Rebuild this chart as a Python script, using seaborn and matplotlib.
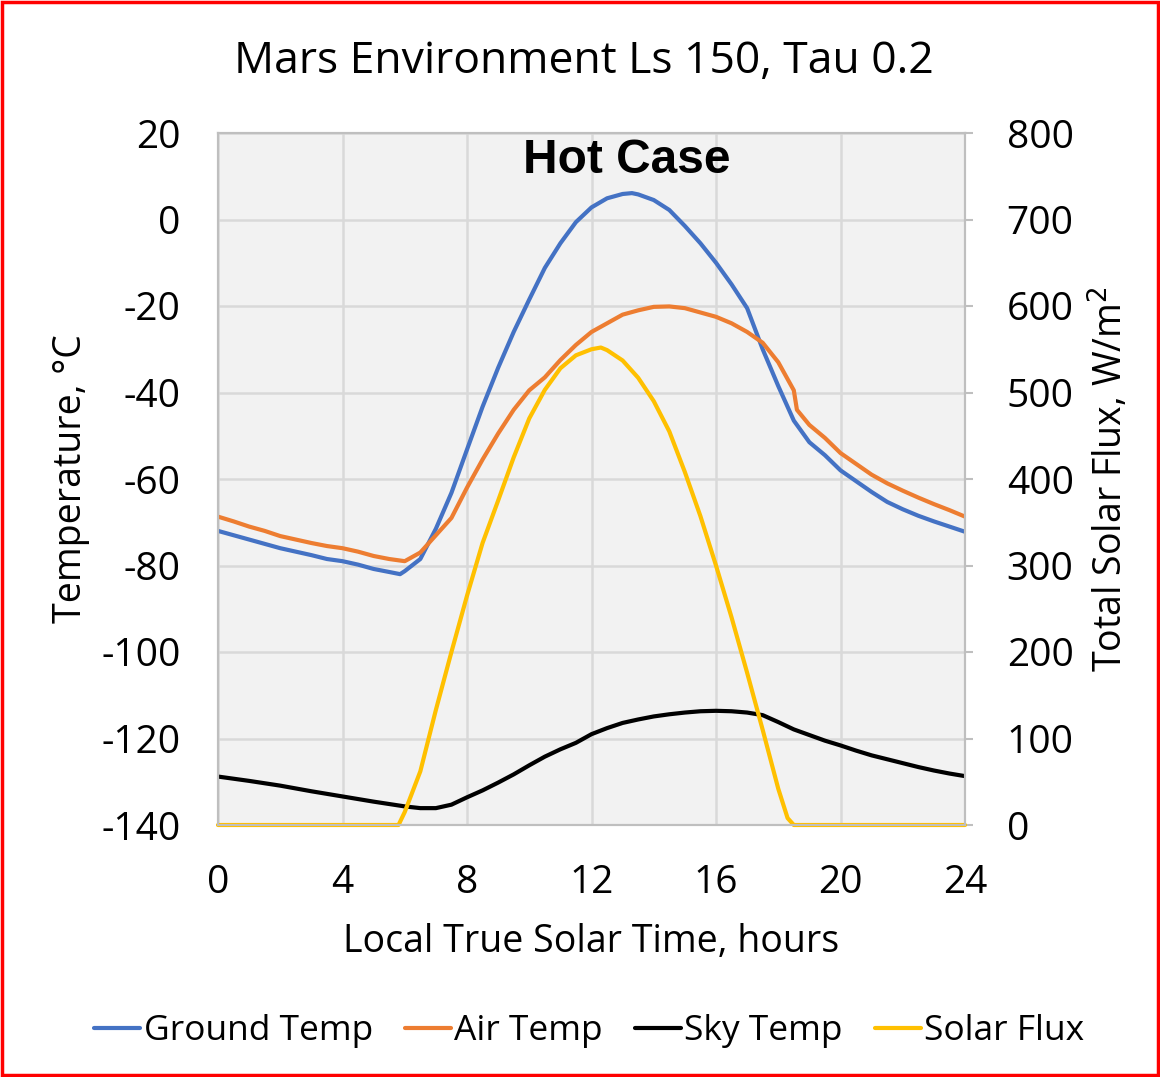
import numpy as np
import pandas as pd
import matplotlib
matplotlib.use("Agg")
import matplotlib.pyplot as plt
import seaborn as sns
from matplotlib.patches import Rectangle

# ---------------- data ----------------
ground_hours = [0, 0.5, 1, 1.5, 2, 2.5, 3, 3.5, 4, 4.5, 5, 5.5, 5.85, 6, 6.5, 7, 7.5, 8, 8.5, 9, 9.5,
                10, 10.5, 11, 11.5, 12, 12.5, 13, 13.3, 13.5, 14, 14.5, 15, 15.5, 16, 16.5, 17, 17.5,
                18, 18.5, 19, 19.5, 20, 20.5, 21, 21.5, 22, 22.5, 23, 23.5, 24]
ground_temp = [-72.0, -73.0, -74.0, -75.0, -76.0, -76.8, -77.6, -78.5, -79.0, -79.8, -80.8, -81.5, -82.0,
               -81.3, -78.5, -71.5, -63.2, -53.2, -43.3, -34.3, -26.0, -18.5, -11.2, -5.5, -0.6, 2.8, 4.9,
               5.9, 6.1, 5.8, 4.5, 2.2, -1.5, -5.5, -10.0, -15.0, -20.5, -30.0, -38.5, -46.5, -51.5,
               -54.5, -58.0, -60.5, -63.0, -65.3, -67.0, -68.5, -69.8, -71.0, -72.2]

air_hours = [0, 0.5, 1, 1.5, 2, 2.5, 3, 3.5, 4, 4.5, 5, 5.5, 6, 6.5, 7, 7.5, 8, 8.5, 9, 9.5, 10, 10.5,
             11, 11.5, 12, 12.5, 13, 13.5, 14, 14.5, 15, 15.5, 16, 16.5, 17, 17.5, 18, 18.5, 18.6, 19,
             19.5, 20, 20.5, 21, 21.5, 22, 22.5, 23, 23.5, 24]
air_temp = [-68.7, -69.8, -71.0, -72.0, -73.2, -74.0, -74.8, -75.5, -76.0, -76.8, -77.8, -78.5, -79.0,
            -77.0, -73.0, -69.0, -62.0, -55.5, -49.5, -44.0, -39.5, -36.5, -32.5, -29.0, -26.0, -24.0,
            -22.0, -21.0, -20.2, -20.1, -20.5, -21.5, -22.5, -24.0, -26.0, -28.5, -33.0, -39.5, -44.0,
            -47.5, -50.5, -54.0, -56.5, -59.0, -61.0, -62.7, -64.3, -65.8, -67.2, -68.7]

sky_hours = [0, 1, 2, 3, 4, 5, 6, 6.5, 7, 7.5, 8, 8.5, 9, 9.5, 10, 10.5, 11, 11.5, 12, 12.5, 13, 13.5,
             14, 14.5, 15, 15.5, 16, 16.5, 17, 17.5, 18, 18.5, 19, 19.5, 20, 20.5, 21, 21.5, 22, 22.5,
             23, 23.5, 24]
sky_temp = [-128.8, -129.8, -130.9, -132.2, -133.4, -134.6, -135.7, -136.1, -136.1, -135.3, -133.6,
            -132.0, -130.2, -128.3, -126.2, -124.2, -122.5, -121.0, -119.0, -117.6, -116.4, -115.6,
            -114.9, -114.4, -114.0, -113.7, -113.6, -113.7, -114.0, -114.6, -116.2, -117.9, -119.2,
            -120.5, -121.6, -122.8, -123.9, -124.8, -125.7, -126.6, -127.4, -128.1, -128.7]

solar_hours = [0, 5.8, 6, 6.5, 7, 7.5, 8, 8.5, 9, 9.5, 10, 10.5, 11, 11.5, 12, 12.3, 12.5, 13, 13.5,
               14, 14.5, 15, 15.5, 16, 16.5, 17, 17.5, 18, 18.3, 18.5, 24]
solar_flux = [0, 0, 15, 62, 133, 200, 265, 326, 375, 425, 470, 503, 528, 543, 550, 552, 549, 537, 517,
              490, 455, 408, 357, 300, 240, 176, 110, 42, 8, 0, 0]

x_ticks = [0, 4, 8, 12, 16, 20, 24]
temp_ticks = [20, 0, -20, -40, -60, -80, -100, -120, -140]
flux_ticks = [800, 700, 600, 500, 400, 300, 200, 100, 0]

# ---------------- style ----------------
sns.set_theme(style="white")
plt.rcParams['font.family'] = ['Open Sans', 'DejaVu Sans']
plt.rcParams['axes.unicode_minus'] = False
plt.rcParams['text.color'] = 'black'
plt.rcParams['axes.labelcolor'] = 'black'

c_ground = "#4472C4"
c_air = "#ED7D31"
c_sky = "#000000"
c_solar = "#FFC000"
grid_c = "#D9D9D9"

fig = plt.figure(figsize=(11.6, 10.77), dpi=100)
ax = fig.add_axes([218/1160, 1-825/1077, (965-218)/1160, (825-133)/1077])
ax.set_facecolor("#F2F2F2")
ax2 = ax.twinx()

df_g = pd.DataFrame({"h": ground_hours, "v": ground_temp})
df_a = pd.DataFrame({"h": air_hours, "v": air_temp})
df_s = pd.DataFrame({"h": sky_hours, "v": sky_temp})
df_f = pd.DataFrame({"h": solar_hours, "v": solar_flux})

lw = 3.0
sns.lineplot(data=df_g, x="h", y="v", ax=ax, color=c_ground, linewidth=lw, label="Ground Temp", legend=False)
sns.lineplot(data=df_a, x="h", y="v", ax=ax, color=c_air, linewidth=lw, label="Air Temp", legend=False)
sns.lineplot(data=df_s, x="h", y="v", ax=ax, color=c_sky, linewidth=lw, label="Sky Temp", legend=False)
sns.lineplot(data=df_f, x="h", y="v", ax=ax2, color=c_solar, linewidth=lw, label="Solar Flux",
             legend=False, clip_on=False)

ax.set_xlim(0, 24)
ax.set_ylim(-140, 20)
ax2.set_ylim(0, 800)
ax.set_xticks(x_ticks)
ax.set_yticks(temp_ticks)
ax2.set_yticks(flux_ticks)
ax.grid(True, color=grid_c, lw=1.8)
ax.set_axisbelow(True)

for a in (ax, ax2):
    for s in a.spines.values():
        s.set_color("#BFBFBF")
        s.set_linewidth(1.5)

fs = 28
ax.tick_params(axis="y", labelsize=fs, length=0, pad=27, colors="black")
ax.tick_params(axis="x", labelsize=fs, length=0, pad=28, colors="black")
ax2.tick_params(axis="y", labelsize=fs, length=6, width=1.5, color="#BFBFBF", pad=24, labelcolor="black")

ax.set_xlabel("Local True Solar Time, hours", fontsize=27, labelpad=15)
ax.set_ylabel("Temperature, °C", fontsize=27, labelpad=8)
ax2.set_ylabel("Total Solar Flux, W/m$^2$", fontsize=27, labelpad=10)

fig.text(0.5035, 1-62/1077, "Mars Environment Ls 150, Tau 0.2", ha="center", va="center", fontsize=32)
ax.text(0.547, 0.96, "Hot Case", transform=ax.transAxes, ha="center", va="center",
        fontsize=34.5, fontweight="bold", family="Liberation Sans", color="black")

handles = ax.get_lines()[:3] + ax2.get_lines()[:1]
labels = ["Ground Temp", "Air Temp", "Sky Temp", "Solar Flux"]
fig.legend(handles, labels, loc="center", bbox_to_anchor=(0.508, 1-1031/1077), ncol=4,
           frameon=False, fontsize=25.5, handlelength=1.3, handletextpad=0.1, columnspacing=0.9)

fig.patches.append(Rectangle((0.002, 0.002), 0.996, 0.996, transform=fig.transFigure,
                             fill=False, edgecolor="#FF0000", lw=2.5))

fig.savefig("out.png", dpi=100)
